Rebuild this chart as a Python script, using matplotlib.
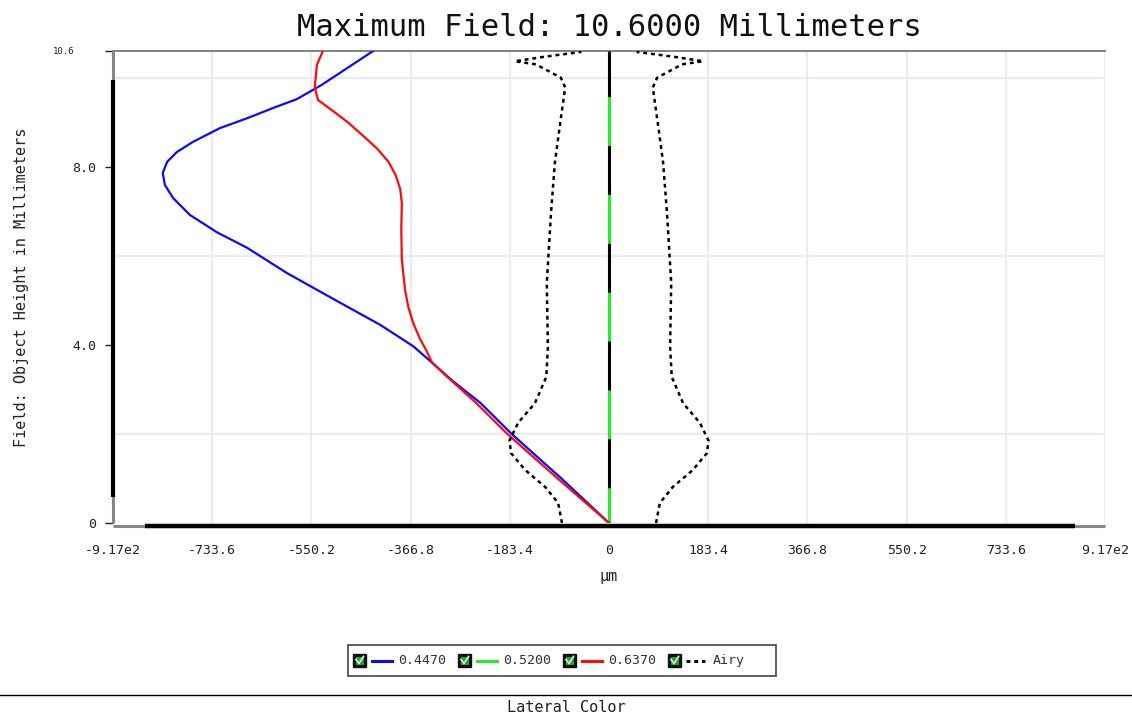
"""
Lateral color plot, field height vs. lateral shift
"""

import matplotlib
matplotlib.use('Agg')
import matplotlib.pyplot as plt
from matplotlib.patches import Rectangle

plt.rcParams['font.family'] = 'DejaVu Sans Mono'
plt.rcParams['lines.scale_dashes'] = False

TITLE = 'Maximum Field: 10.6000 Millimeters'
FOOTER = 'Lateral Color'
X_MAX = 917.0
Y_MAX = 10.6

X_TICKS = [-917.0, -733.6, -550.2, -366.8, -183.4, 0, 183.4, 366.8, 550.2, 733.6, 917.0]
X_TICK_LABELS = ['-9.17e2', '-733.6', '-550.2', '-366.8', '-183.4', '0',
                 '183.4', '366.8', '550.2', '733.6', '9.17e2']
Y_TICKS = [0, 4, 8, 10.6]
Y_TICK_LABELS = ['0', '4.0', '8.0', '10.6']
Y_GRID = [2, 4, 6, 8, 10]

# 0.4470 um
BLUE_Y = [0, 1.0, 2.0, 2.7, 3.2, 3.6, 3.97, 4.45, 5.0, 5.61, 6.18, 6.53, 6.92,
          7.30, 7.59, 7.86, 8.11, 8.33, 8.56, 8.87, 9.09, 9.32, 9.52, 9.84, 10.6]
BLUE_X = [0, -88, -180, -238, -290, -327, -362, -423, -505, -595, -669, -725, -775,
          -806, -821, -825, -817, -799, -769, -719, -669, -621, -577, -531, -436]
# 0.5200 um (reference)
GREEN_Y = [0, 10.6]
GREEN_X = [0, 0]
# 0.6370 um
RED_Y = [0, 1.0, 2.0, 2.7, 3.26, 3.6, 3.88, 4.15, 4.49, 4.85, 5.23, 5.91, 6.6,
         7.19, 7.5, 7.8, 8.1, 8.4, 8.7, 9.0, 9.25, 9.5, 9.79, 10.29, 10.6]
RED_X = [0, -95, -188, -246, -297, -327, -338, -350, -362, -371, -377, -383, -384,
         -383, -386, -394, -407, -428, -455, -483, -510, -538, -544, -540, -529]
# Airy radius
AIRY_Y = [0.0, 0.45, 0.81, 1.19, 1.57, 1.85, 2.25, 2.69, 3.28, 3.95, 5.39, 7.0,
          8.1, 9.0, 9.78, 10.0, 10.30, 10.37, 10.47, 10.58]
AIRY_R = [87, 94, 118, 155, 181, 184, 168, 137, 116, 113, 115, 107,
          100, 90, 81, 89, 135, 174, 120, 51]

LEGEND_LABELS = ['0.4470', '0.5200', '0.6370', 'Airy']
COLORS = ['#0a0aff', '#22ee22', '#ff0a0a', 'black']

W, H = 1132, 720

if __name__ in '__main__':
    fig = plt.figure(figsize=(W/100, H/100), dpi=100)
    ax = fig.add_axes([113/W, 1-523/H, 992/W, 472/H])

    ax.plot(BLUE_X, BLUE_Y, color=COLORS[0], lw=1.6, zorder=5)
    ax.plot(RED_X, RED_Y, color=COLORS[2], lw=1.6, zorder=5)
    ax.plot(GREEN_X, GREEN_Y, color=COLORS[1], lw=2.2, zorder=4)
    # zero line drawn dashed over the reference wavelength
    ax.plot(GREEN_X, GREEN_Y, color='black', lw=2.2, zorder=4.5,
            linestyle=(45, (35.2, 35.2)))
    for sign in (1, -1):
        ax.plot([sign*r for r in AIRY_R], AIRY_Y, color=COLORS[3], lw=1.8,
                linestyle=(0, (2.8, 2.8)), zorder=5)

    ax.set_xlim(-X_MAX, X_MAX)
    ax.set_ylim(0, Y_MAX)
    ax.set_xticks(X_TICKS)
    ax.set_xticklabels(X_TICK_LABELS, fontsize=9.5)
    ax.set_yticks(Y_TICKS)
    ax.set_yticklabels(Y_TICK_LABELS, fontsize=9.5)
    ax.set_yticks(Y_GRID, minor=True)
    ax.tick_params(axis='x', length=0, pad=15, colors='#222222')
    ax.tick_params(axis='y', which='major', length=6, width=1, pad=6,
                   colors='#222222')
    ax.tick_params(axis='y', which='minor', length=0)
    last = ax.yaxis.get_major_ticks()[-1]
    last.tick1line.set_markersize(13)
    last.label1.set_fontsize(6.5)
    last.set_pad(22)

    ax.grid(True, axis='x', which='major', color='#ececec', lw=1.6, zorder=0)
    ax.grid(True, axis='y', which='minor', color='#ececec', lw=1.6, zorder=0)
    ax.set_axisbelow(True)

    for side in ('left', 'bottom', 'right'):
        ax.spines[side].set_visible(False)
    ax.spines['top'].set_color('#777777')
    ax.spines['top'].set_linewidth(1.3)

    # axis bars: thin grey over full length, thick black in the middle
    ax.plot([0, 0], [0, 1], transform=ax.transAxes, color='#888888', lw=2.2,
            clip_on=False, zorder=6, solid_capstyle='butt')
    ax.plot([0, 0], [0.055, 0.939], transform=ax.transAxes, color='black', lw=3,
            clip_on=False, zorder=7, solid_capstyle='butt')
    ax.plot([0, 1], [-0.006, -0.006], transform=ax.transAxes, color='#888888',
            lw=2.2, clip_on=False, zorder=6, solid_capstyle='butt')
    ax.plot([0.032, 0.97], [-0.006, -0.006], transform=ax.transAxes,
            color='black', lw=3.2, clip_on=False, zorder=7, solid_capstyle='butt')

    ax.set_title(TITLE, fontsize=22, pad=11, color='#111111')
    ax.set_xlabel('µm', fontsize=11, labelpad=9, color='#222222')
    ax.set_ylabel('Field: Object Height in Millimeters', fontsize=11,
                  color='#222222')
    ax.yaxis.set_label_coords(-84/992, 0.5)

    # legend and footer, drawn in pixel space
    lay = fig.add_axes([0, 0, 1, 1], zorder=-1)
    lay.set_xlim(0, W)
    lay.set_ylim(H, 0)
    lay.axis('off')
    lay.add_patch(Rectangle((348, 645), 428, 31, facecolor='white',
                            edgecolor='#444444', lw=1.2))
    yc = 660.5
    for i, (lab, col) in enumerate(zip(LEGEND_LABELS, COLORS)):
        x0 = 353 + i*105
        lay.add_patch(Rectangle((x0, yc-6.5), 13, 13, facecolor='#111111',
                                edgecolor='#111111'))
        lay.add_patch(Rectangle((x0+2.5, yc-4), 8, 8, facecolor='#2f9a3a',
                                edgecolor='none'))
        lay.plot([x0+3, x0+6, x0+10.5], [yc-1, yc+3, yc-4],
                 color='#b9f5b9', lw=1.3)
        if lab == 'Airy':
            lay.plot([x0+18, x0+37], [yc, yc], color=col, lw=2.2,
                     linestyle=(0, (2.8, 2.8)))
        else:
            lay.plot([x0+19, x0+39], [yc, yc], color=col, lw=2.2)
        lay.text(x0+45, yc, lab, fontsize=9.5, va='center', ha='left',
                 color='#333333')
    lay.plot([0, W], [695, 695], color='black', lw=1)
    lay.text(566, 708, FOOTER, fontsize=11, ha='center', va='center',
             color='#222222')

    fig.savefig('out.png', dpi=100, facecolor='white')
